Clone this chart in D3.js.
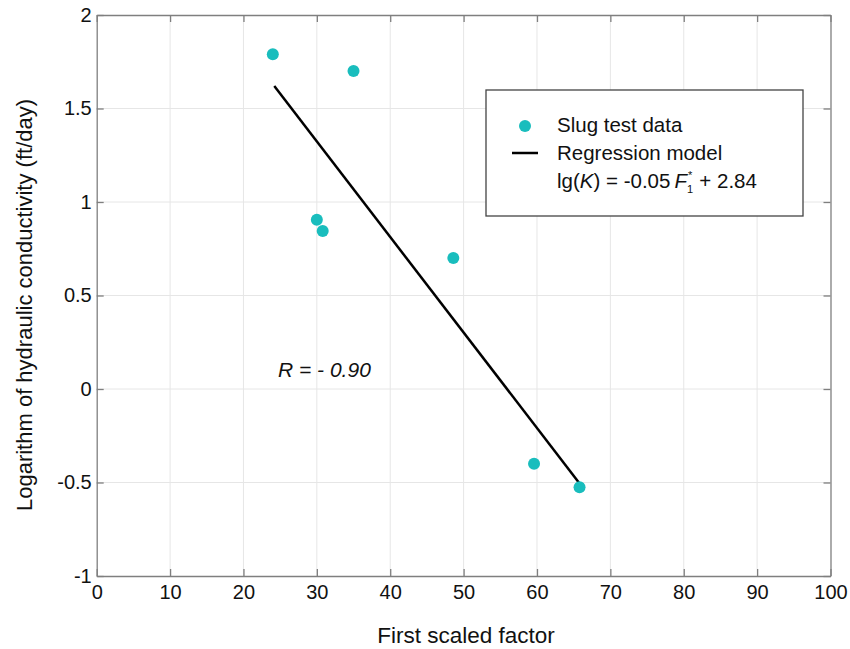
<!DOCTYPE html>
<html><head><meta charset="utf-8">
<script src="https://cdn.jsdelivr.net/npm/d3@7"></script>
<style>body{margin:0;background:#fff}svg{display:block;font-family:"Liberation Sans",Arial,sans-serif}</style>
</head><body><svg id="c" width="850" height="649"></svg>
<script>
const pointX = [24.0, 35.0, 30.0, 30.8, 48.6, 59.6, 65.8];
const pointY = [1.79, 1.70, 0.905, 0.845, 0.70, -0.40, -0.525];
const lineX = [24.2, 65.7];
const lineY = [1.62, -0.50];
const xTicks = [0,10,20,30,40,50,60,70,80,90,100];
const yTicks = [-1,-0.5,0,0.5,1,1.5,2];
const yTickLabels = ["-1","-0.5","0","0.5","1","1.5","2"];

const svg = d3.select("#c");
const L=96.7, R=830.5, T=15, B=576;
const x = d3.scaleLinear().domain([0,100]).range([L,R]);
const y = d3.scaleLinear().domain([-1,2]).range([B,T]);
const tickLen = 7, axisCol = "#7f7f7f";

// grid
const g = svg.append("g");
g.selectAll(".gx").data(xTicks.slice(1,-1)).enter().append("line")
  .attr("x1",d=>x(d)).attr("x2",d=>x(d)).attr("y1",T).attr("y2",B)
  .attr("stroke","#e6e6e6").attr("stroke-width",1);
g.selectAll(".gy").data(yTicks.slice(1,-1)).enter().append("line")
  .attr("y1",d=>y(d)).attr("y2",d=>y(d)).attr("x1",L).attr("x2",R)
  .attr("stroke","#e6e6e6").attr("stroke-width",1);

// axes
const xb = svg.append("g").attr("transform",`translate(0,${B})`)
  .call(d3.axisBottom(x).tickValues(xTicks).tickSizeInner(-tickLen).tickSizeOuter(0).tickPadding(9));
const xt = svg.append("g").attr("transform",`translate(0,${T})`)
  .call(d3.axisTop(x).tickValues(xTicks).tickSizeInner(-tickLen).tickSizeOuter(0).tickFormat(""));
const yl = svg.append("g").attr("transform",`translate(${L},0)`)
  .call(d3.axisLeft(y).tickValues(yTicks).tickSizeInner(-tickLen).tickSizeOuter(0).tickPadding(5)
  .tickFormat((d,i)=>yTickLabels[i]));
const yr = svg.append("g").attr("transform",`translate(${R},0)`)
  .call(d3.axisRight(y).tickValues(yTicks).tickSizeInner(-tickLen).tickSizeOuter(0).tickFormat(""));
[xb,xt,yl,yr].forEach(a=>{
  a.selectAll("path,line").attr("stroke",axisCol).attr("stroke-width",1.3);
  a.selectAll("text").attr("font-size",20).attr("fill","#111").attr("font-family","Liberation Sans, Arial, sans-serif");
});
xb.selectAll("text").attr("dy","0.72em");

// regression line
svg.append("path").datum(lineX.map((d,i)=>[d,lineY[i]]))
  .attr("d",d3.line().x(d=>x(d[0])).y(d=>y(d[1])))
  .attr("stroke","#000").attr("stroke-width",2.5).attr("fill","none");

// points
svg.selectAll(".pt").data(pointX.map((d,i)=>[d,pointY[i]])).enter().append("circle")
  .attr("cx",d=>x(d[0])).attr("cy",d=>y(d[1])).attr("r",6)
  .attr("fill","#19bdbd");

// R text
const rt = svg.append("text").attr("x",278).attr("y",377).attr("font-size",21)
  .attr("font-style","italic").attr("fill","#111");
rt.append("tspan").text("R");
rt.append("tspan").text(" = - 0.90");

// legend
const lg = svg.append("g");
lg.append("rect").attr("x",486).attr("y",90).attr("width",317).attr("height",126)
  .attr("fill","#fff").attr("stroke","#444").attr("stroke-width",1.3);
lg.append("circle").attr("cx",525).attr("cy",126).attr("r",6).attr("fill","#19bdbd");
lg.append("line").attr("x1",512).attr("x2",538).attr("y1",153).attr("y2",153).attr("stroke","#000").attr("stroke-width",2.5);
const lt = (yy,t)=>lg.append("text").attr("x",557).attr("y",yy).attr("font-size",20.5).attr("fill","#111").text(t);
lt(132,"Slug test data");
lt(160,"Regression model");
const eq = lg.append("text").attr("x",557).attr("y",188).attr("font-size",20.5).attr("fill","#111");
eq.append("tspan").text("lg(");
eq.append("tspan").attr("font-style","italic").text("K");
eq.append("tspan").text(") = -0.05");
eq.append("tspan").attr("font-style","italic").attr("dx",4).text("F");
eq.append("tspan").attr("font-size",11).attr("dy",5).text("1");
eq.append("tspan").attr("font-size",11).attr("dy",-14).attr("dx",-5).text("*");
eq.append("tspan").attr("dy",9).attr("dx",7).text("+ 2.84");

// axis titles
svg.append("text").attr("x",466).attr("y",643).attr("text-anchor","middle").attr("font-size",22.5)
  .attr("fill","#111").text("First scaled factor");
svg.append("text").attr("transform","translate(32,305) rotate(-90)").attr("text-anchor","middle")
  .attr("font-size",22).attr("fill","#111").text("Logarithm of hydraulic conductivity (ft/day)");
</script></body></html>
